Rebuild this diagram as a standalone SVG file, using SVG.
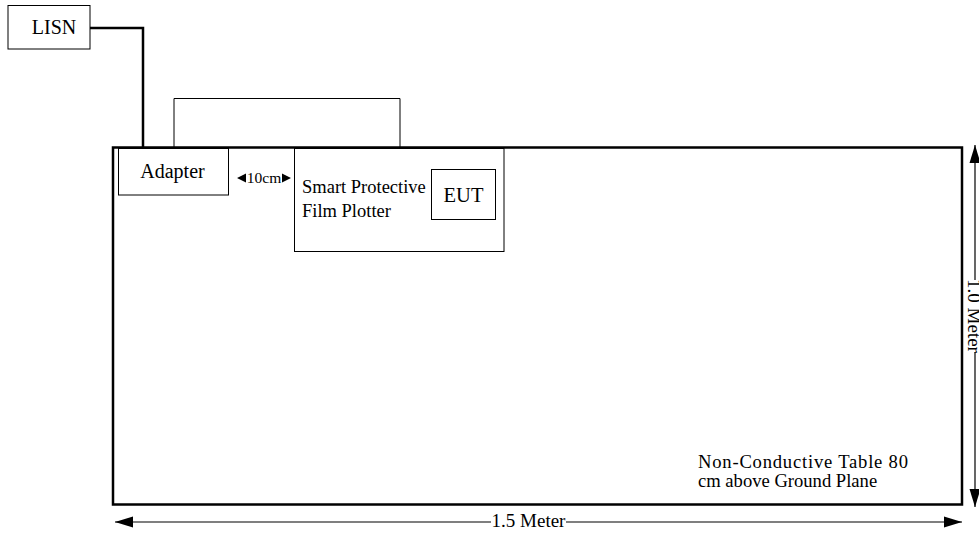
<svg xmlns="http://www.w3.org/2000/svg" width="979" height="536" viewBox="0 0 979 536">
<style>
text{font-family:"Liberation Serif","Times New Roman",serif;fill:#000}
.box{fill:#fff;stroke:#000;stroke-width:1}
.thin{fill:none;stroke:#000;stroke-width:1}
</style>
<defs>
<marker id="ah" viewBox="0 0 18 12" refX="18" refY="6" markerWidth="18" markerHeight="12" markerUnits="userSpaceOnUse" orient="auto-start-reverse"><path d="M0,0.5 L18,6 L0,11.5 z" fill="#000"/></marker>
</defs>
<rect width="979" height="536" fill="#fff"/>
<g id="table"><rect x="113" y="147.5" width="849" height="357" fill="none" stroke="#000" stroke-width="2.5"/>
<text x="698" y="468" font-size="18.6" textLength="210" lengthAdjust="spacing">Non-Conductive Table 80</text>
<text x="698" y="487" font-size="18.6">cm above Ground Plane</text></g>
<g id="connectors">
<path d="M90,28 H143 V147" fill="none" stroke="#000" stroke-width="2.5"/>
<path d="M174,147 V98.5 H400 V147" class="thin" stroke="#444"/>
<line x1="115" y1="522" x2="491" y2="522" stroke="#000" stroke-width="1.2" marker-start="url(#ah)"/>
<line x1="566" y1="522" x2="962" y2="522" stroke="#000" stroke-width="1.2" marker-end="url(#ah)"/>
<line x1="975" y1="145" x2="975" y2="280" stroke="#000" stroke-width="1.2" marker-start="url(#ah)"/>
<line x1="975" y1="352" x2="975" y2="507" stroke="#000" stroke-width="1.2" marker-end="url(#ah)"/>
<text x="528.5" y="527" font-size="19" text-anchor="middle">1.5 Meter</text>
<text transform="translate(968,316) rotate(90)" font-size="19" text-anchor="middle">1.0 Meter</text>
</g>
<g id="lisn"><rect class="box" x="8" y="5.5" width="82" height="43.5"/><text x="54" y="34" font-size="20" text-anchor="middle">LISN</text></g>
<g id="adapter"><rect class="box" x="118.5" y="148.5" width="110" height="46.5"/><text x="172.5" y="178" font-size="20" text-anchor="middle">Adapter</text></g>
<g id="dist"><path d="M237,178 L246,173.5 L246,182.5 z M291,178 L282,173.5 L282,182.5 z" fill="#000"/><text x="264" y="183" font-size="15.5" text-anchor="middle">10cm</text></g>
<g id="plotter"><rect class="box" x="294.5" y="148.5" width="209.5" height="103"/>
<text x="302" y="193" font-size="18.5">Smart Protective</text>
<text x="302" y="217" font-size="18.5">Film Plotter</text></g>
<g id="eut"><rect class="box" x="431.5" y="169.5" width="64" height="50"/><text x="463.5" y="202" font-size="20.5" text-anchor="middle">EUT</text></g>
</svg>
